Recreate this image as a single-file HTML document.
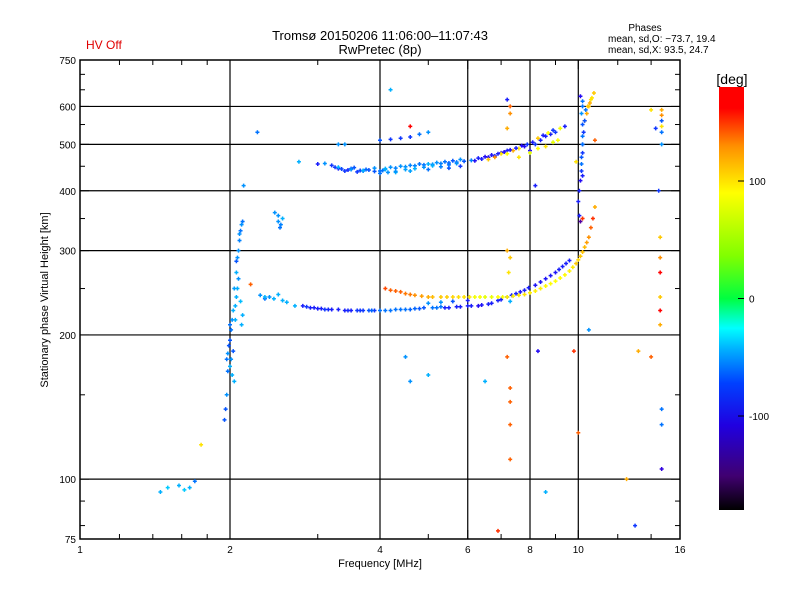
<!DOCTYPE html>
<html><head><meta charset="utf-8"><style>
body{margin:0;background:#fff;}
svg text{font-family:"Liberation Sans",sans-serif;}
</style></head><body>
<svg id="chart" width="800" height="600" xmlns="http://www.w3.org/2000/svg">
<defs>
<linearGradient id="cbg" x1="0" y1="1" x2="0" y2="0">
<stop offset="0" stop-color="#000000"/>
<stop offset="0.08" stop-color="#400070"/>
<stop offset="0.2" stop-color="#2000e0"/>
<stop offset="0.3" stop-color="#0040ff"/>
<stop offset="0.38" stop-color="#00b0ff"/>
<stop offset="0.43" stop-color="#00ffff"/>
<stop offset="0.5" stop-color="#00ff40"/>
<stop offset="0.6" stop-color="#80ff00"/>
<stop offset="0.75" stop-color="#ffff00"/>
<stop offset="0.86" stop-color="#ff9000"/>
<stop offset="0.95" stop-color="#ff0000"/>
<stop offset="1" stop-color="#ff0000"/>
</linearGradient>
</defs>
<g id="grid"></g>
<g id="marks"></g>
<rect x="80" y="60" width="600" height="479" fill="none" stroke="#000" stroke-width="1.5"/>
<g id="ticks"></g>
<text x="86" y="49" fill="#e00000" font-size="12">HV Off</text>
<text x="380" y="40" font-size="13" text-anchor="middle">Tromsø 20150206 11:06:00–11:07:43</text>
<text x="380" y="54" font-size="13" text-anchor="middle">RwPretec (8p)</text>
<text x="645" y="31" font-size="10" text-anchor="middle">Phases</text>
<text x="608" y="42" font-size="10">mean, sd,O: −73.7, 19.4</text>
<text x="608" y="53" font-size="10">mean, sd,X:  93.5, 24.7</text>
<text x="380" y="567" font-size="11" text-anchor="middle">Frequency [MHz]</text>
<text transform="translate(48,300) rotate(-90)" font-size="11" text-anchor="middle">Stationary phase Virtual Height [km]</text>
<rect x="719" y="87" width="25" height="423" fill="url(#cbg)"/>
<text x="732" y="84" font-size="14" text-anchor="middle">[deg]</text>
<g id="cbticks"></g>
</svg>
<script>
const xTicks=[1,2,4,6,8,10,16];
const xMinor=[1.2,1.4,1.6,1.8,3,5,7,9,12,14];
const yTicks=[75,100,200,300,400,500,600,750];
const yMinor=[80,90,150,250,350,450,550,650,700];
const xGrid=[2,4,6,8,10];
const yGrid=[100,200,300,400,500,600];
const cbTicks=[100,0,-100];
const freqs=[1.45,1.5,1.58,1.62,1.66,1.7,1.75,1.95,1.96,1.97,1.98,2.0,2.01,2.02,2.03,1.99,2.0,2.02,2.05,2.06,2.07,2.08,2.06,2.08,2.1,2.12,2.09,2.13,2.05,2.1,2.11,2.04,2.2,2.27,2.46,2.5,2.52,2.55,
2.35,2.4,2.5,2.55,2.6,2.7,2.8,2.9,3.0,3.1,3.3,3.5,3.7,3.9,4.1,4.3,4.5,4.7,4.9,5.1,5.3,5.5,5.7,6.0,6.3,6.6,6.9,7.2,7.5,7.8,8.2,8.6,9.0,9.3,9.6,
5.0,5.3,5.6,6.0,
4.1,4.3,4.5,4.7,5.0,5.3,5.6,5.9,6.2,6.5,6.9,7.2,7.6,8.0,8.4,8.8,9.2,9.6,9.9,10.1,10.3,10.5,10.6,10.7,10.8,
10.1,10.05,10.0,10.05,10.1,10.2,
5.0,4.6,6.5,7.2,7.3,7.3,7.3,7.3,7.2,7.3,7.3,7.25,6.9,8.3,8.6,9.8,10,10.5,12.5,13,13.2,14,4.5,
14.7,14.7,14.7,14.7,14.7,14.7,14.6,14.6,14.6,14.6,14.6,14.6,14.7,14.7,14.7,14.3,14.0,14.5,
2.75,3.0,3.2,3.3,3.4,3.5,3.6,3.7,3.8,4.0,4.1,4.2,4.4,4.6,4.8,5.0,5.2,5.4,5.6,5.8,4.0,4.3,4.6,5.0,5.5,5.8,6.2,6.4,6.6,6.8,7.0,7.2,6.6,6.8,7.0,7.2,7.4,7.6,7.8,8.0,8.2,8.4,8.6,8.8,9.0,8.3,8.6,8.9,9.1,7.6,8.0,
4.0,4.2,4.4,4.6,3.3,3.4,4.8,5.0,4.6,4.2,
10.1,10.2,10.2,10.15,10.2,10.2,10.2,10.2,10.15,10.2,10.4,10.5,10.6,10.3,10.8,7.2,7.3,7.3,7.2,8.2,9.9,
2.85,2.95,3.05,3.15,3.2,3.4,3.45,3.6,3.65,3.8,3.85,4.0,4.2,4.4,4.6,4.8,5.2,5.4,5.8,6.1,6.4,6.7,7.0,7.35,7.65,7.95,8.4,8.8,9.15,9.45,
4.2,4.4,4.6,4.85,5.1,5.45,5.75,6.05,6.35,6.7,7.05,7.4,7.8,8.2,8.6,9.0,9.4,9.75,10.0,10.2,10.4,
3.1,3.25,3.35,3.45,3.55,3.65,3.75,3.9,4.05,4.15,4.3,4.5,4.7,4.9,5.1,5.3,5.5,5.7,5.9,6.1,6.3,6.5,6.7,6.9,7.1,7.3,7.5,7.7,7.9,8.1,8.3,8.5,8.7,8.9,9.2,9.4,
3.3,3.5,3.7,3.9,4.1,4.3,4.5,4.7,4.9,5.1,5.3,5.5,5.7,
1.97,1.98,2.0,2.01,2.03,2.04,2.06,2.07,2.09,2.11,2.12,2.5,2.53,2.3,2.35,2.45,
10.15,10.15,10.2,10.25,10.3,10.35,10.45,10.55,10.65,10.75];
const heights=[94,96,97,95,96,99,118,133,140,150,168,172,178,165,185,190,210,215,230,240,250,262,285,300,330,345,325,410,215,235,210,160,255,530,360,345,335,350,
238,240,243,236,234,230,230,228,227,226,226,225,225,225,225,226,226,227,228,228,229,228,229,230,230,232,236,240,244,248,254,262,270,278,286,
233,234,235,236,
250,247,244,242,240,240,240,240,240,240,240,240,242,245,250,256,263,272,282,292,305,320,335,350,370,
420,400,380,355,345,350,
165,160,160,180,155,145,130,110,300,290,235,270,78,185,94,185,125,205,100,80,185,180,180,
590,575,560,545,530,500,320,290,270,240,225,210,140,130,105,540,590,400,
460,455,452,445,440,445,438,440,442,440,445,448,450,452,455,455,458,460,462,465,435,437,440,443,446,450,462,466,470,473,480,485,465,470,478,478,485,490,495,485,500,510,520,525,530,490,495,505,510,470,480,
510,512,515,518,500,500,525,530,545,650,
630,615,600,580,550,520,500,480,455,430,580,600,620,560,510,620,600,580,540,410,460,
229,228,227,226,226,225,225,225,225,225,225,225,225,226,226,227,228,228,229,230,231,233,237,242,246,251,258,266,274,282,
248,246,243,241,240,240,240,240,240,240,240,241,243,247,253,259,267,277,287,298,312,
456,448,444,442,447,441,443,439,441,437,446,449,451,453,454,456,457,459,461,463,468,471,475,478,482,487,491,497,500,505,515,522,528,535,540,545,
448,443,441,446,443,439,443,445,448,451,449,453,456,
178,183,195,205,225,250,270,290,315,340,220,355,340,242,240,238,
440,470,500,530,560,590,600,610,625,640];
const phases=[-60,-50,-60,-50,-60,-80,100,-90,-90,-70,-80,-60,-70,-60,-90,-90,-80,-70,-60,-60,-60,-70,-90,-70,-80,-80,-70,-70,-60,-55,-60,-60,140,-80,-70,-70,-80,-60,
-80,-70,-60,-60,-60,-60,-110,-110,-110,-100,-110,-110,-100,-100,-80,-80,-80,-85,-90,-80,-80,-110,-110,-110,-120,-110,-110,-110,-110,-110,-115,-115,-115,-110,-110,
-70,-70,-90,-110,
145,140,135,130,120,110,105,100,85,80,90,95,100,95,95,90,90,95,110,110,115,130,140,150,120,
-120,-110,-110,-110,-150,150,
-60,-70,-60,140,140,140,140,140,120,110,-60,100,150,-120,-60,150,140,-70,120,-100,120,140,-70,
120,130,-90,100,-80,-70,110,130,160,110,160,120,-80,-80,-130,-100,100,-100,
-60,-110,-100,-110,-100,-90,-100,-80,-90,-80,-60,-70,-70,-75,-80,-60,-70,-80,-90,-70,-80,-60,-65,-80,-90,-100,-120,-110,-120,-110,-120,-110,110,130,100,90,120,100,-120,-120,-100,-110,-110,-110,-100,90,100,80,90,100,80,
-90,-100,-100,-100,-70,-70,-80,-70,160,-60,
-120,-80,-80,-70,-90,-80,-100,-100,-80,-110,120,110,100,140,140,-110,140,130,120,-110,100,
-100,-110,-110,-105,-110,-110,-105,-100,-100,-90,-85,-80,-80,-80,-85,-90,-80,-110,-110,-110,-115,-110,-110,-110,-115,-110,-115,-115,-110,-110,
140,140,135,125,115,108,102,98,88,82,88,95,100,96,92,90,92,98,105,112,125,
-70,-100,-95,-105,-90,-95,-85,-90,-80,-70,-75,-70,-75,-80,-70,-75,-85,-80,-90,-75,-110,-120,-115,-110,-120,-115,-110,-120,-100,-110,110,-110,90,-100,85,-110,
-60,-70,-60,-70,-60,-70,-65,-60,-70,-60,-75,-80,-70,
-80,-70,-90,-80,-60,-65,-60,-70,-75,-70,-60,-70,-75,-70,-60,-60,
-100,-90,-80,-100,-90,-80,110,120,100,110];

const NS='http://www.w3.org/2000/svg';
function xs(f){return 80+600*Math.log(f)/Math.log(16);}
function ys(h){return 539-479*Math.log10(h/75);}
function cbY(p){return 510-(p+180)/360*423;}
const stops=[[-180,[0,0,0]],[-150,[80,0,160]],[-125,[40,0,240]],[-105,[20,40,255]],[-85,[0,100,255]],[-60,[0,176,255]],[-30,[0,255,255]],[0,[0,255,64]],[40,[128,255,0]],[90,[255,255,0]],[130,[255,144,0]],[160,[255,0,0]],[180,[255,0,0]]];
function col(p){for(let i=1;i<stops.length;i++){if(p<=stops[i][0]){const a=stops[i-1],b=stops[i],t=(p-a[0])/(b[0]-a[0]);return 'rgb('+a[1].map((v,k)=>Math.round(v+(b[1][k]-v)*t)).join(',')+')';}}return 'rgb(255,0,0)';}
function line(g,x1,y1,x2,y2,w){const l=document.createElementNS(NS,'line');l.setAttribute('x1',x1);l.setAttribute('y1',y1);l.setAttribute('x2',x2);l.setAttribute('y2',y2);l.setAttribute('stroke','#000');l.setAttribute('stroke-width',w);g.appendChild(l);return l;}
function txt(g,x,y,s,anchor,size){const t=document.createElementNS(NS,'text');t.setAttribute('x',x);t.setAttribute('y',y);t.setAttribute('text-anchor',anchor);t.setAttribute('font-size',size);t.textContent=s;g.appendChild(t);return t;}
const grid=document.getElementById('grid'),ticks=document.getElementById('ticks'),marks=document.getElementById('marks'),cbt=document.getElementById('cbticks');
xGrid.forEach(f=>{const l=line(grid,xs(f),60,xs(f),539,1.2);

});
yGrid.forEach(h=>{const l=line(grid,80,ys(h),680,ys(h),1.2);

});
xTicks.forEach(f=>{const t=txt(ticks,xs(f),553,String(f),'middle',10);


line(ticks,xs(f),539,xs(f),530,1);line(ticks,xs(f),60,xs(f),69,1);});
xMinor.forEach(f=>{line(ticks,xs(f),539,xs(f),534,1);line(ticks,xs(f),60,xs(f),65,1);});
yTicks.forEach(h=>{const t=txt(ticks,76,ys(h)+4,String(h),'end',10);


line(ticks,80,ys(h),89,ys(h),1);line(ticks,680,ys(h),671,ys(h),1);});
yMinor.forEach(h=>{line(ticks,80,ys(h),85,ys(h),1);line(ticks,680,ys(h),675,ys(h),1);});
cbTicks.forEach(p=>{const y=cbY(p);line(cbt,744,y,738,y,1);
const t=txt(cbt,749,y+4,String(p),'start',10);

});
for(let i=0;i<freqs.length;i++){const x=xs(freqs[i]),y=ys(heights[i]),c=col(phases[i]);
const p=document.createElementNS(NS,'path');
p.setAttribute('d','M'+(x-2)+' '+y+'H'+(x+2)+'M'+x+' '+(y-2)+'V'+(y+2));
p.setAttribute('stroke',c);p.setAttribute('stroke-width','1.5');


marks.appendChild(p);}
</script>
</body></html>
